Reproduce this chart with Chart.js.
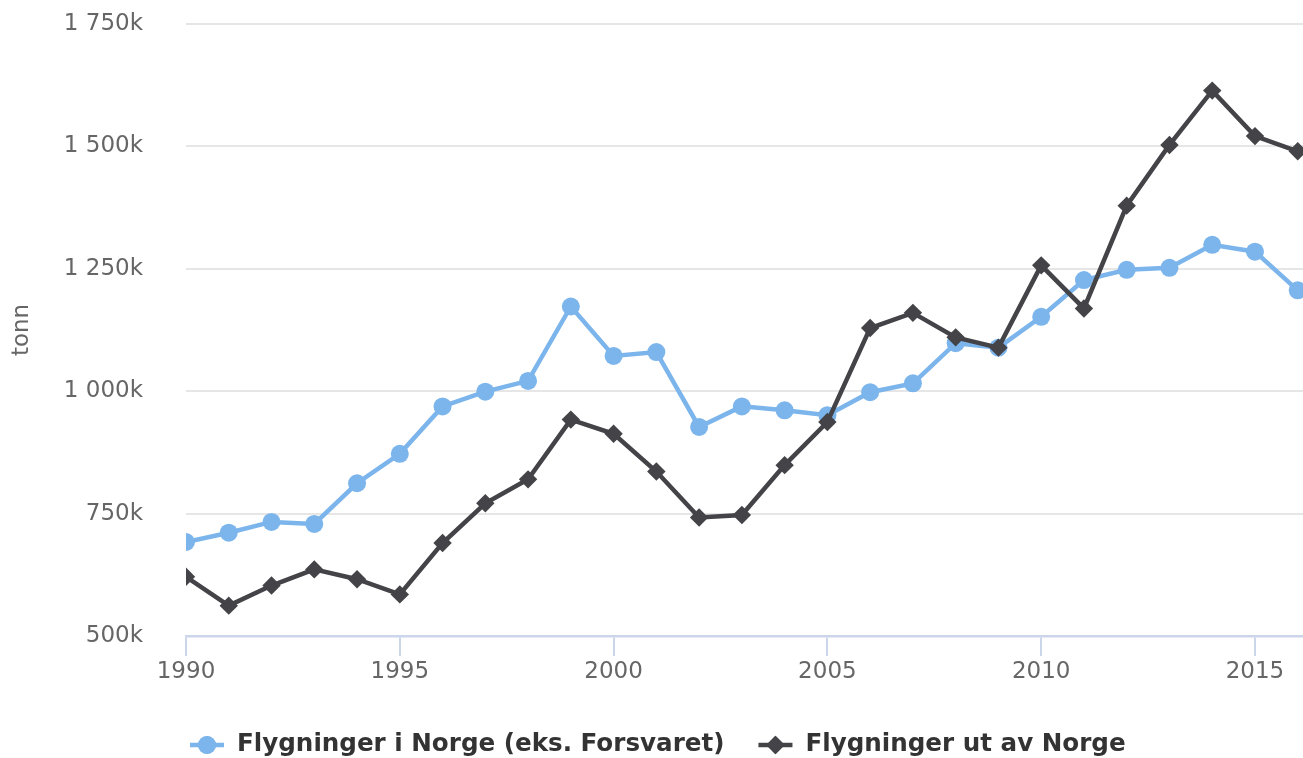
<!DOCTYPE html>
<html>
<head>
<meta charset="utf-8">
<script src="https://cdn.jsdelivr.net/npm/chart.js@4/dist/chart.umd.min.js"></script>
<style>
  html, body { margin: 0; padding: 0; background: #ffffff; overflow: hidden; }
  #wrap { width: 1360px; height: 758px; }
</style>
</head>
<body>
<div id="wrap"><canvas id="c" width="1360" height="758"></canvas></div>
<script>
// ---- data (thousand tonnes) ----
const years = [1990, 1991, 1992, 1993, 1994, 1995, 1996, 1997, 1998, 1999, 2000, 2001, 2002, 2003, 2004, 2005, 2006, 2007, 2008, 2009, 2010, 2011, 2012, 2013, 2014, 2015, 2016];
const flyInnenlands = [692, 711, 733, 729, 812, 872, 969, 999, 1021, 1173, 1072, 1080, 927, 969, 961, 951, 998, 1016, 1098, 1089, 1152, 1227, 1248, 1252, 1299, 1285, 1206];
const flyUtenlands = [621, 562, 603, 636, 616, 585, 690, 771, 820, 942, 913, 836, 742, 747, 849, 937, 1129, 1160, 1110, 1089, 1257, 1169, 1379, 1503, 1614, 1521, 1490];
const seriesNames = ['Flygninger i Norge (eks. Forsvaret)', 'Flygninger ut av Norge'];
const xTickValues = [1990, 1995, 2000, 2005, 2010, 2015];
const yTickValues = [500, 750, 1000, 1250, 1500, 1750];
const yTickLabels = ['500k', '750k', '1 000k', '1 250k', '1 500k', '1 750k'];
const yAxisTitle = 'tonn';

const colors = ['#7cb5ec', '#434348'];
const pointStyles = ['circle', 'rectRot'];
const pointRadii = [9, 9.2];

const toPoints = arr => arr.map((v, i) => ({ x: years[i], y: v }));

const legendPlugin = {
  id: 'customLegend',
  afterDraw(chart) {
    const ctx = chart.ctx;
    ctx.save();
    ctx.font = 'bold 24.6px "DejaVu Sans"';
    ctx.textBaseline = 'middle';
    const cy = 745;
    let x = 190;
    chart.data.datasets.forEach((ds, i) => {
      ctx.strokeStyle = colors[i];
      ctx.lineWidth = 4.5;
      ctx.beginPath();
      ctx.moveTo(x, cy);
      ctx.lineTo(x + 34, cy);
      ctx.stroke();
      ctx.fillStyle = colors[i];
      Chart.helpers.drawPoint(ctx, { pointStyle: pointStyles[i], radius: pointRadii[i], borderWidth: 0 }, x + 17, cy);
      ctx.fill();
      ctx.fillStyle = '#333333';
      ctx.textAlign = 'left';
      ctx.fillText(ds.label, x + 47, cy);
      x += 47 + ctx.measureText(ds.label).width + 34;
    });
    ctx.restore();
  }
};

new Chart(document.getElementById('c'), {
  type: 'line',
  data: {
    datasets: [
      {
        label: seriesNames[0],
        data: toPoints(flyInnenlands),
        borderColor: colors[0],
        backgroundColor: colors[0],
        borderWidth: 4.5,
        pointStyle: pointStyles[0],
        pointRadius: pointRadii[0],
        pointBorderWidth: 0,
        pointBackgroundColor: colors[0],
        tension: 0,
        order: 2
      },
      {
        label: seriesNames[1],
        data: toPoints(flyUtenlands),
        borderColor: colors[1],
        backgroundColor: colors[1],
        borderWidth: 4.5,
        pointStyle: pointStyles[1],
        pointRadius: pointRadii[1],
        pointBorderWidth: 0,
        pointBackgroundColor: colors[1],
        tension: 0,
        order: 1
      }
    ]
  },
  options: {
    responsive: false,
    animation: false,
    events: [],
    devicePixelRatio: 1,
    layout: { padding: { top: 24, right: 19.5, left: 0, bottom: 0 } },
    plugins: { legend: { display: false }, tooltip: { enabled: false } },
    scales: {
      x: {
        type: 'linear',
        min: 1990,
        max: 2017,
        afterBuildTicks: s => { s.ticks = xTickValues.map(v => ({ value: v })); },
        afterFit: s => { s.height = 122; s.paddingLeft = 0; s.paddingRight = 0; s.paddingTop = 0; s.paddingBottom = 0; },
        ticks: {
          color: '#666666',
          font: { family: 'DejaVu Sans', size: 23 },
          padding: 2,
          maxRotation: 0,
          callback: v => String(v)
        },
        grid: {
          drawOnChartArea: false,
          drawTicks: true,
          tickLength: 20,
          color: '#ccd6eb',
          lineWidth: 2
        },
        border: { display: true, color: '#ccd6eb', width: 2.5 }
      },
      y: {
        type: 'linear',
        min: 500,
        max: 1750,
        afterBuildTicks: s => { s.ticks = yTickValues.map(v => ({ value: v })); },
        afterFit: s => { s.width = 186; s.paddingTop = 0; s.paddingBottom = 0; s.paddingLeft = 0; s.paddingRight = 0; },
        ticks: {
          color: '#666666',
          font: { family: 'DejaVu Sans', size: 23 },
          padding: 43,
          callback: v => yTickLabels[yTickValues.indexOf(v)]
        },
        grid: {
          drawTicks: false,
          color: ctx => (ctx.tick && ctx.tick.value === 500) ? 'rgba(0,0,0,0)' : '#e6e6e6',
          lineWidth: 2
        },
        border: { display: false },
        title: {
          display: true,
          text: yAxisTitle,
          color: '#666666',
          font: { family: 'DejaVu Sans', size: 23 },
          padding: { top: 8, bottom: 0 }
        }
      }
    }
  },
  plugins: [legendPlugin]
});
</script>
</body>
</html>
